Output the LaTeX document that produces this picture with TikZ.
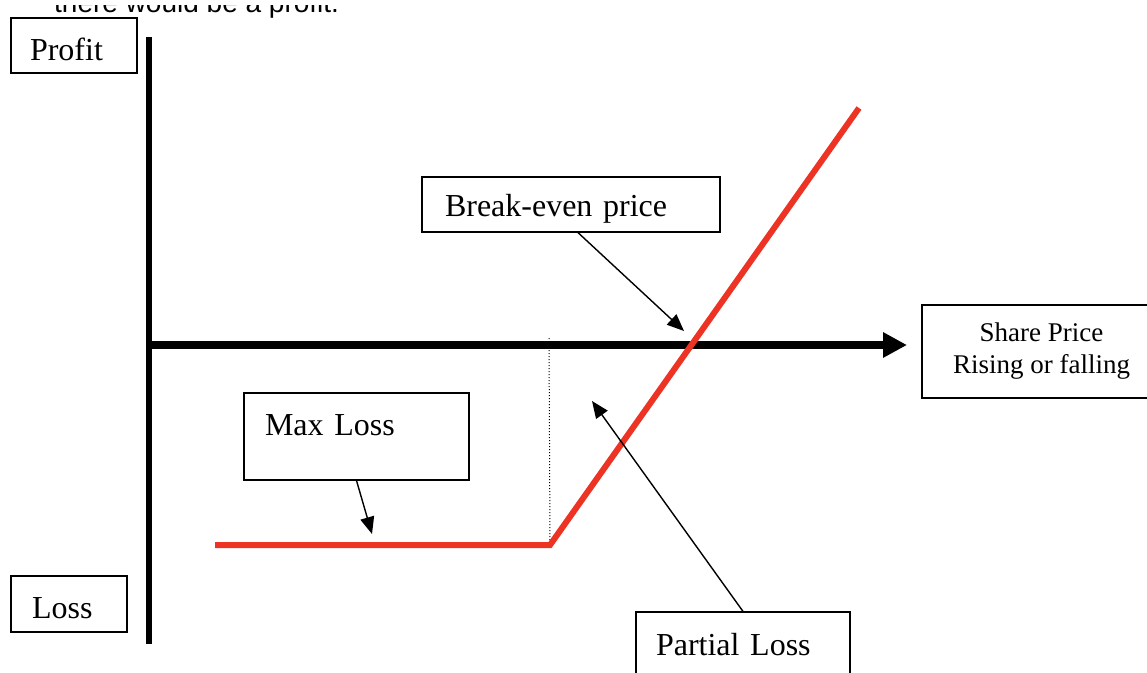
\documentclass[tikz,border=0pt]{standalone}
\usepackage{fontspec}
\setmainfont{Liberation Serif}
\newfontfamily\notefont{Liberation Sans}
\usetikzlibrary{arrows.meta}

\tikzset{
  textbox/.style={draw=drawColor,line width=1.2pt,fill=white,inner ysep=0pt,
    font=\fontsize{32}{38}\selectfont,align=left},
  callout/.style={draw=drawColor,line width=1.4pt,-{Triangle[length=17pt,width=14pt]}},
  axis/.style={draw=drawColor,line cap=butt},
}

\begin{document}
\begin{tikzpicture}[x=1pt,y=-1pt]
\definecolor{drawColor}{RGB}{0,0,0}
\definecolor{payoffColor}{RGB}{236,51,36}
\path[use as bounding box] (0,0) rectangle (1147,672);
\clip (0,0) rectangle (1147,672);

% cut-off line of text above
\begin{scope}
\clip (0,5) rectangle (1147,40);
\node[anchor=base west,inner sep=0pt,font=\notefont\fontsize{28}{34}\selectfont] (note) at (54,12) {there would be a profit.};
\end{scope}

% labels
\node[textbox,minimum width=126pt,minimum height=55pt,text width=88pt,text height=30pt] (profit) at (74,45.5) {Profit};
\node[textbox,minimum width=116pt,minimum height=56pt,text width=74pt,text height=30pt] (loss) at (69,604) {Loss};
\node[textbox,minimum width=298pt,minimum height=55pt,text width=252pt,text height=31pt] (breakeven) at (571,204.5) {Break-even price};
\node[textbox,minimum width=239pt,minimum height=93pt,align=center,
  font=\fontsize{27}{32}\selectfont] (share) at (1041.5,351.5) {Share Price\\Rising or falling};
\node[textbox,minimum width=225pt,minimum height=87pt,text width=183pt,text depth=22pt] (maxloss) at (356.5,436.5) {Max Loss};
\node[textbox,minimum width=214pt,minimum height=66pt,text width=174pt] (partial) at (743,645) {Partial Loss};

% axes
\coordinate (ytop) at (149,37);
\coordinate (ybot) at (149,644);
\coordinate (xend) at (907,345);
\path[axis,line width=6pt] (ytop) -- (ybot);
\path[axis,line width=8pt,-{Triangle[length=24pt,width=24pt]}] (ybot |- xend) -- (xend);

% payoff
\coordinate (strike) at (550,545);
\draw[drawColor,dotted,line width=1pt] (549,338) -- (strike);
\draw[payoffColor,line width=6pt,line join=miter] (215,545) -- (strike) -- (859,108);

% callouts
\coordinate (betip) at (684,331);
\coordinate (mltip) at (372,534);
\coordinate (pltip) at (592,401);
\draw[callout] ([xshift=7pt]breakeven.south) -- (betip);
\draw[callout] (maxloss.south) -- (mltip);
\draw[callout] (partial.north) -- (pltip);
\end{tikzpicture}
\end{document}
